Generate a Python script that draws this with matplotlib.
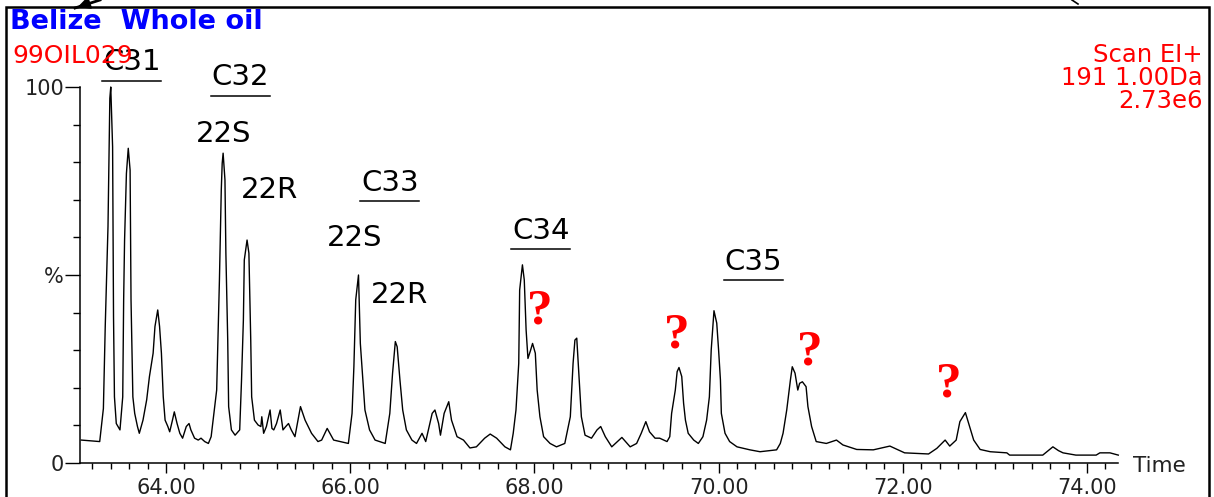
import matplotlib
matplotlib.use("Agg")
import matplotlib.pyplot as plt
from matplotlib.lines import Line2D
from matplotlib.patches import Rectangle
from matplotlib.ticker import FixedLocator, MultipleLocator

# retention time (min) and relative intensity (%)
time_min = [
    63.08, 63.28, 63.32, 63.34, 63.37, 63.39, 63.40, 63.42, 63.43, 63.44,
    63.46, 63.50, 63.53, 63.54, 63.55, 63.57, 63.59, 63.61, 63.62, 63.64,
    63.66, 63.69, 63.71, 63.75, 63.79, 63.82, 63.86, 63.88, 63.91, 63.93,
    63.95, 63.97, 63.99, 64.02, 64.04, 64.07, 64.09, 64.12, 64.15, 64.18,
    64.22, 64.25, 64.27, 64.31, 64.35, 64.38, 64.42, 64.46, 64.49, 64.52,
    64.55, 64.56, 64.58, 64.60, 64.61, 64.62, 64.64, 64.65, 64.67, 64.68,
    64.71, 64.75, 64.80, 64.82, 64.84, 64.85, 64.88, 64.90, 64.92, 64.93,
    64.96, 65.00, 65.03, 65.04, 65.06, 65.09, 65.13, 65.15, 65.17, 65.20,
    65.24, 65.27, 65.30, 65.33, 65.36, 65.40, 65.44, 65.46, 65.51, 65.58,
    65.65, 65.69, 65.75, 65.82, 65.89, 65.98, 66.02, 66.04, 66.06, 66.09,
    66.11, 66.16, 66.21, 66.27, 66.38, 66.43, 66.46, 66.49, 66.51, 66.54,
    66.57, 66.61, 66.67, 66.72, 66.78, 66.82, 66.89, 66.92, 66.96, 66.98,
    67.02, 67.07, 67.10, 67.16, 67.23, 67.30, 67.37, 67.46, 67.52, 67.59,
    67.68, 67.74, 67.77, 67.80, 67.83, 67.84, 67.87, 67.89, 67.91, 67.93,
    67.96, 67.98, 68.01, 68.03, 68.06, 68.10, 68.17, 68.24, 68.33, 68.39,
    68.42, 68.44, 68.46, 68.48, 68.51, 68.55, 68.62, 68.68, 68.72, 68.77,
    68.84, 68.95, 69.04, 69.11, 69.16, 69.21, 69.25, 69.31, 69.36, 69.44,
    69.47, 69.49, 69.53, 69.55, 69.57, 69.60, 69.62, 69.64, 69.67, 69.73,
    69.78, 69.83, 69.87, 69.90, 69.92, 69.94, 69.95, 69.98, 70.00, 70.02,
    70.03, 70.07, 70.12, 70.20, 70.34, 70.45, 70.63, 70.67, 70.70, 70.74,
    70.78, 70.80, 70.83, 70.86, 70.88, 70.91, 70.95, 70.97, 71.01, 71.06,
    71.17, 71.28, 71.35, 71.50, 71.68, 71.75, 71.86, 72.02, 72.28, 72.37,
    72.46, 72.51, 72.58, 72.62, 72.68, 72.71, 72.77, 72.84, 72.95, 73.13,
    73.16, 73.52, 73.58, 73.63, 73.69, 73.74, 73.88, 74.10, 74.14, 74.25,
    74.34,
]
intensity = [
    6.1, 5.7, 14.5, 36.3, 62.9, 97.0, 100.0, 84.1, 38.9, 17.6,
    10.5, 8.8, 17.6, 43.4, 59.3, 77.0, 83.7, 77.9, 43.4, 17.6,
    13.2, 9.7, 7.9, 11.4, 16.8, 23.0, 29.2, 36.3, 40.7, 36.3,
    29.2, 17.6, 11.4, 9.7, 8.3, 11.4, 13.6, 10.5, 7.9, 6.6,
    9.7, 10.5, 8.8, 6.6, 6.1, 6.6, 5.7, 5.2, 7.0, 13.2,
    19.4, 29.2, 48.7, 72.6, 79.7, 82.4, 75.3, 55.8, 32.7, 15.0,
    8.8, 7.4, 8.8, 22.1, 38.0, 54.0, 59.3, 55.8, 32.7, 17.6,
    11.4, 10.1, 9.7, 12.3, 7.9, 9.7, 14.1, 9.2, 8.8, 10.5,
    14.1, 8.8, 9.7, 10.5, 8.8, 7.0, 12.3, 15.0, 11.4, 7.9,
    5.7, 6.1, 9.2, 6.1, 5.7, 5.2, 13.2, 25.6, 43.4, 50.0,
    31.8, 14.1, 8.8, 6.1, 5.2, 13.2, 23.9, 32.3, 30.9, 22.1,
    14.1, 8.8, 6.1, 5.2, 7.9, 5.7, 13.2, 14.1, 10.5, 7.4,
    13.2, 16.3, 11.4, 7.0, 6.1, 4.0, 4.3, 6.6, 7.7, 6.6,
    4.3, 3.5, 7.9, 14.1, 26.5, 46.0, 52.7, 48.7, 35.4, 27.8,
    30.1, 31.8, 29.2, 19.4, 12.3, 7.0, 5.2, 4.3, 5.2, 12.3,
    26.5, 32.7, 33.2, 24.7, 12.3, 7.4, 6.6, 8.8, 9.7, 7.0,
    4.3, 6.8, 4.3, 5.2, 7.9, 11.0, 8.3, 6.6, 6.6, 5.7,
    7.0, 13.2, 19.4, 24.3, 25.4, 23.0, 15.9, 11.4, 7.9, 6.1,
    5.2, 7.0, 11.4, 17.6, 30.1, 37.2, 40.5, 37.2, 30.1, 22.1,
    13.2, 7.9, 5.7, 4.3, 3.5, 3.0, 3.5, 5.2, 7.9, 14.1,
    22.1, 25.6, 23.9, 19.4, 21.2, 21.6, 20.3, 15.0, 9.7, 5.7,
    5.2, 6.1, 4.8, 3.6, 3.5, 3.9, 4.5, 2.7, 2.4, 3.9,
    6.1, 4.5, 6.1, 11.0, 13.4, 11.0, 6.1, 3.6, 3.0, 2.7,
    2.1, 2.1, 3.3, 4.3, 3.3, 2.7, 2.1, 2.1, 2.7, 2.7,
    2.1,
]

x_major = [64, 66, 68, 70, 72, 74]
x_labels = ["64.00", "66.00", "68.00", "70.00", "72.00", "74.00"]
y_major = [0, 50, 100]
y_labels = ["0", "%", "100"]

title = "Belize  Whole oil"
sample_id = "99OIL029"
scan_info = ["Scan EI+", "191 1.00Da", "2.73e6"]

# homologue labels and where they sit (time, %)
group_names = ["C31", "C32", "C33", "C34", "C35"]
group_pos = [(63.63, 106.6), (64.81, 102.6), (66.43, 74.6), (68.07, 61.7), (70.38, 53.5)]
epimer_names = ["22S", "22R", "22S", "22R"]
epimer_pos = [(64.63, 87.5), (65.12, 72.6), (66.05, 59.8), (66.53, 44.7)]
unknown_pos = [(68.06, 40.4), (69.55, 33.8), (70.99, 29.5), (72.50, 20.9)]

W, H = 1214, 497
fig = plt.figure(figsize=(W / 100, H / 100), dpi=100)
ax = fig.add_axes([80 / W, 1 - 463 / H, (1118 - 80) / W, (463 - 87) / H])

ax.plot(time_min, intensity, color="black", lw=1.0, clip_on=False)

ax.set_xlim(63.066, 74.337)
ax.set_ylim(0, 100)
for s in ["top", "right"]:
    ax.spines[s].set_visible(False)
for s in ["left", "bottom"]:
    ax.spines[s].set_linewidth(1.1)

ax.xaxis.set_major_locator(FixedLocator(x_major))
ax.set_xticklabels(x_labels)
ax.xaxis.set_minor_locator(MultipleLocator(0.2))
ax.yaxis.set_major_locator(FixedLocator(y_major))
ax.set_yticklabels(y_labels)
ax.yaxis.set_minor_locator(MultipleLocator(10))
ax.tick_params(axis="x", which="major", length=7.5, width=1, pad=3, labelsize=15, labelcolor="#222222")
ax.tick_params(axis="x", which="minor", length=4, width=1)
ax.tick_params(axis="y", which="major", length=10.5, width=1, pad=1, labelsize=15, labelcolor="#222222")
ax.tick_params(axis="y", which="minor", length=5, width=1)

# x-axis caption to the right of the axis end
fig.text(1133 / W, 1 - 466 / H, "Time", fontsize=15.5, color="#222222", ha="left", va="center")

# header texts
fig.text(10 / W, 1 - 22 / H, title, fontsize=19.5, fontweight="bold", color="#0000ff", ha="left", va="center")
fig.text(12 / W, 1 - 56 / H, sample_id, fontsize=18, color="#ff0000", ha="left", va="center")
for i, line in enumerate(scan_info):
    fig.text(1203 / W, 1 - (55 + 23 * i) / H, line, fontsize=17.5, color="#ff0000", ha="right", va="center")

# homologue labels, underlined
for name, (t, y) in zip(group_names, group_pos):
    ax.text(t, y, name, fontsize=21, ha="center", va="center", clip_on=False)
    ax.add_line(Line2D([t - 0.32, t + 0.32], [y - 4.9, y - 4.9], color="black", lw=1.1, clip_on=False))

for name, (t, y) in zip(epimer_names, epimer_pos):
    ax.text(t, y, name, fontsize=21, ha="center", va="center", clip_on=False)

for t, y in unknown_pos:
    ax.text(t, y, "?", fontsize=37, fontweight="bold", family="Liberation Serif",
            color="#ff0000", ha="center", va="center", clip_on=False)

# outer frame (cut off at the bottom edge of the image)
fig.add_artist(Rectangle((6 / W, -0.1), (1209 - 6) / W, 1.1 - 7 / H, transform=fig.transFigure,
                         fill=False, lw=1.8, edgecolor="black", clip_on=False))
# pointer arrow at the top-left corner
fig.add_artist(Line2D([75 / W, 100 / W], [1 - 8 / H, 1.0], transform=fig.transFigure, color="black", lw=2))
ax.annotate("", xy=(75, H - 8), xytext=(92, H - 2), xycoords="figure pixels", textcoords="figure pixels",
            arrowprops=dict(arrowstyle="-|>", color="black", lw=1.5, mutation_scale=18), annotation_clip=False)
fig.add_artist(Line2D([1072 / W, 1078 / W], [1.0, 1 - 4 / H], transform=fig.transFigure, color="black", lw=1.2))

fig.savefig("out.png", dpi=100)
